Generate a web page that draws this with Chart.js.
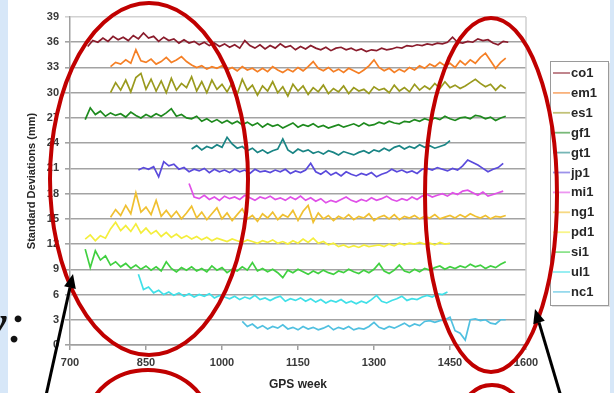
<!DOCTYPE html>
<html><head><meta charset="utf-8">
<script src="https://cdn.jsdelivr.net/npm/chart.js@4.4.1/dist/chart.umd.min.js"></script>
<style>html,body{margin:0;padding:0;background:#d7e7f8;overflow:hidden}canvas{display:block}</style>
</head><body>
<canvas id="c" width="614" height="393"></canvas>
<script>
const seriesNames = ['co1','em1','es1','gf1','gt1','jp1','mi1','ng1','pd1','si1','ul1','nc1'];
const seriesColors = ['#8a1c2c','#f57f25','#9a9a1e','#1e8a1e','#1a8585','#5a4adc','#e050e8','#f0c030','#f4ee3c','#40d040','#40e0e8','#50c0e0'];
const startWeeks = [735,780,780,730,940,835,935,780,730,730,835,1040];
const weekStep = 10;
const xTickLabels = [700,850,1000,1150,1300,1450,1600];
const yTickLabels = [0,3,6,9,12,15,18,21,24,27,30,33,36,39];

const co1 = [35.5,36.2,36.0,36.5,36.1,36.7,36.3,36.6,36.2,36.8,
 36.4,37.1,36.5,36.7,36.1,36.6,36.2,36.4,35.9,36.3,
 35.9,36.1,35.7,36.0,35.6,35.9,35.5,35.8,35.4,35.7,
 35.3,36.2,35.6,35.3,35.7,35.2,35.6,35.3,35.8,35.4,
 35.6,35.1,35.5,35.2,35.6,35.3,35.1,35.4,35.0,35.3,
 35.4,35.1,35.3,35.0,35.2,34.9,35.1,35.0,35.3,35.1,
 35.2,35.4,35.3,35.6,35.5,35.7,35.6,35.8,35.7,35.9,
 35.8,36.0,36.6,36.0,35.9,36.1,36.0,36.4,36.2,36.3,
 35.9,35.7,36.1,36.0];
const em1 = [33.1,33.6,33.4,33.9,33.5,35.1,33.8,33.6,34.0,33.4,
 33.7,34.2,33.6,33.9,34.3,33.7,33.3,33.0,33.2,32.8,
 33.1,32.9,33.2,32.7,33.0,32.6,33.1,32.7,32.9,32.5,
 32.9,32.5,33.1,32.7,32.4,32.8,32.5,33.0,32.6,33.1,
 33.7,32.9,32.6,33.0,32.5,32.8,32.4,32.9,32.6,32.3,
 32.7,33.2,33.9,33.0,32.6,32.9,32.4,32.8,32.5,33.0,
 32.7,33.2,32.9,33.4,33.1,33.6,33.2,33.5,33.0,33.8,
 33.3,33.9,33.5,34.2,34.7,33.8,32.9,33.6,34.1];
const es1 = [30.0,31.2,30.3,31.5,30.1,31.8,32.3,30.4,31.6,30.2,
 31.4,30.0,31.7,30.3,31.1,30.6,31.9,30.2,31.3,30.0,
 31.5,30.4,31.0,30.1,31.2,29.8,31.6,30.3,30.9,29.7,
 30.8,30.2,31.3,30.0,30.7,29.6,31.0,30.2,30.8,29.8,
 30.6,30.1,30.9,29.9,30.5,30.1,30.8,29.9,30.6,30.2,
 30.4,29.9,30.7,30.3,30.5,30.0,30.9,30.2,30.6,30.1,
 31.0,30.3,30.8,30.4,31.1,30.5,31.3,30.6,30.9,30.5,
 30.8,31.2,31.6,31.1,30.7,31.0,30.3,30.9,30.5];
const gf1 = [26.8,28.2,27.4,27.8,27.2,27.6,27.3,27.5,27.1,27.7,
 27.3,27.0,27.4,27.1,27.5,27.2,27.6,28.1,27.2,27.4,
 27.0,26.9,27.2,26.6,26.9,26.5,26.8,26.4,26.7,26.3,
 26.6,26.2,26.5,26.1,26.4,25.9,26.3,26.0,26.2,25.8,
 26.1,26.4,25.9,26.2,26.0,26.3,25.9,26.1,25.8,26.0,
 26.2,25.9,26.1,26.3,26.0,26.4,26.1,26.2,26.5,26.3,
 26.6,26.4,26.3,26.6,26.5,26.8,26.6,26.9,26.7,27.0,
 26.8,27.2,26.9,26.7,27.0,27.1,26.9,27.3,27.2,26.9,
 27.1,26.7,27.0,27.2];
const gt1 = [23.3,23.7,23.2,23.6,23.4,23.8,23.5,24.7,23.9,23.4,
 23.6,23.1,23.4,22.9,23.2,22.8,23.1,23.3,24.5,23.2,
 22.8,23.3,23.0,23.2,22.8,23.0,22.7,23.1,22.9,22.6,
 23.0,22.8,22.6,22.9,23.1,22.8,23.2,23.0,23.4,23.1,
 23.5,23.7,23.3,23.6,23.4,23.8,23.5,23.7,23.4,23.6,
 23.8,24.3];
const jp1 = [20.8,21.1,20.9,21.2,20.0,21.8,21.3,21.5,20.9,21.1,
 20.6,20.9,20.7,21.0,20.5,20.9,20.6,20.8,20.5,20.9,
 20.6,20.8,20.4,20.9,20.6,20.7,20.5,20.8,20.6,20.9,
 20.4,20.7,20.5,20.8,21.6,20.6,20.3,20.7,20.2,20.5,
 20.1,20.6,20.3,20.1,20.4,20.2,20.5,20.0,20.3,20.5,
 20.9,20.6,20.8,20.5,20.7,20.4,20.9,21.0,20.8,21.1,
 20.9,20.7,21.0,20.8,21.3,22.0,21.7,21.4,21.0,20.6,
 20.9,21.1,21.6];
const mi1 = [19.2,17.6,17.4,17.8,17.3,17.6,17.2,17.7,17.4,17.6,
 17.3,17.8,17.5,17.2,17.6,17.4,17.7,17.3,17.5,17.2,
 17.6,17.3,17.7,17.2,17.5,17.1,17.4,16.9,17.2,17.0,
 17.3,17.6,17.2,17.0,17.3,17.1,17.5,17.2,17.4,17.7,
 17.3,17.1,17.4,17.2,17.6,17.3,17.7,17.9,17.6,17.8,
 18.0,17.7,18.1,17.9,18.3,18.4,18.1,17.8,18.2,17.7,
 17.9,18.1,18.3];
const ng1 = [15.2,16.1,15.4,16.6,15.6,18.1,15.8,16.4,15.5,17.2,
 15.3,16.0,15.2,15.9,15.0,15.7,16.5,15.1,15.8,14.9,
 15.6,16.3,15.0,15.7,14.8,15.5,16.2,15.0,15.4,14.7,
 15.6,15.1,15.8,14.9,15.5,15.2,16.0,14.8,15.9,16.6,
 14.6,15.7,15.0,15.4,14.8,15.3,15.0,15.5,14.9,15.3,
 15.1,15.6,14.8,15.2,15.4,15.0,15.5,14.9,15.3,15.1,
 15.4,15.0,15.3,15.1,15.5,15.0,15.2,15.4,15.1,15.5,
 15.2,15.6,15.3,15.1,15.4,15.0,15.3,15.2,15.4];
const pd1 = [12.6,13.1,12.4,13.0,12.7,13.8,14.6,13.6,14.2,13.5,
 14.4,13.3,13.9,13.2,13.6,12.9,13.4,12.8,13.2,12.7,
 13.0,12.6,12.9,12.5,12.8,12.4,12.7,12.5,12.3,12.6,
 12.4,12.2,12.5,12.3,12.1,12.4,12.2,12.5,12.1,12.3,
 12.0,12.4,12.1,12.6,12.2,12.7,12.1,12.3,11.9,12.1,
 11.7,11.9,11.6,11.8,11.6,11.9,11.7,11.8,11.9,11.7,
 12.0,11.8,12.1,11.9,12.1,12.0,12.2,12.0,12.1,11.9,
 12.2,12.0,12.1];
const si1 = [11.4,9.2,11.2,10.1,10.6,9.5,9.9,9.3,9.7,9.1,
 9.5,9.0,9.4,8.9,9.3,8.8,9.9,9.1,8.7,9.2,
 8.9,9.3,8.8,9.1,8.7,9.4,8.9,9.2,8.6,9.0,
 8.8,9.3,8.9,9.8,8.8,9.1,8.7,9.0,8.6,8.0,
 8.9,8.6,9.0,8.7,8.4,8.8,8.5,8.9,8.6,8.4,
 8.8,8.6,9.0,8.7,8.5,8.9,8.6,9.0,9.7,8.8,
 8.5,8.9,9.5,8.8,8.6,9.0,8.7,9.1,8.9,9.2,
 9.4,9.0,9.3,9.1,9.4,9.2,9.6,9.3,9.5,9.1,
 9.4,9.2,9.6,9.9];
const ul1 = [8.4,6.6,6.9,6.2,6.5,6.0,6.3,5.9,6.2,5.8,
 6.1,5.7,6.0,5.8,6.1,5.6,5.9,5.7,5.5,5.8,
 5.4,5.7,5.5,5.9,5.4,5.6,5.3,5.6,5.8,5.2,
 5.5,5.3,5.6,5.2,5.5,5.1,5.4,5.0,5.3,5.1,
 5.4,5.0,5.2,4.9,5.2,5.0,5.4,5.9,5.2,5.0,
 5.3,5.5,5.8,5.3,5.5,5.4,5.7,5.9,5.7,6.1,
 6.0,6.3];
const nc1 = [2.8,2.2,2.5,2.0,2.3,1.9,2.2,2.0,2.4,1.9,
 2.1,1.8,2.2,1.9,2.1,1.8,2.0,2.3,1.8,2.1,
 1.9,2.2,1.8,2.0,1.9,2.2,2.7,2.1,1.9,2.2,
 2.0,2.3,2.6,2.2,2.5,2.3,2.8,2.9,2.7,2.9,
 3.0,3.3,1.7,1.4,0.6,3.0,3.1,2.9,3.0,2.6,
 2.5,3.0,3.0];
const seriesValues = [co1,em1,es1,gf1,gt1,jp1,mi1,ng1,pd1,si1,ul1,nc1];

// ---- build datasets ----
const datasets = seriesNames.map((name, i) => ({
  label: name,
  data: seriesValues[i].map((v, k) => ({x: startWeeks[i] + k * weekStep, y: v})),
  borderColor: seriesColors[i],
  backgroundColor: seriesColors[i],
  borderWidth: 1.7,
  pointRadius: 0,
  tension: 0,
  fill: false
}));

const SANS = "'Liberation Sans', Arial, sans-serif";

const bgPlugin = {
  id: 'bg',
  beforeDraw(chart) {
    const ctx = chart.ctx;
    ctx.save();
    ctx.fillStyle = '#d7e7f8';
    ctx.fillRect(0, 0, chart.width, chart.height);
    ctx.fillStyle = '#ffffff';
    ctx.fillRect(8, 0, 602, chart.height);
    ctx.restore();
  },
  beforeDatasetsDraw(chart) {
    const {ctx, chartArea: a} = chart;
    ctx.save();
    ctx.strokeStyle = '#cfcfcf';
    ctx.lineWidth = 1.5;
    ctx.beginPath();
    ctx.moveTo(a.right, a.top);
    ctx.lineTo(a.right, a.bottom);
    ctx.stroke();
    ctx.restore();
  }
};

const legendPlugin = {
  id: 'boxLegend',
  afterDraw(chart) {
    const ctx = chart.ctx;
    ctx.save();
    const bx = 550, by = 61, bw = 58, bh = 244;
    ctx.fillStyle = 'rgba(0,0,0,0.12)';
    ctx.fillRect(bx + 2, by + 2, bw, bh);
    ctx.fillStyle = '#ffffff';
    ctx.fillRect(bx, by, bw, bh);
    ctx.strokeStyle = '#9a9a9a';
    ctx.lineWidth = 1;
    ctx.strokeRect(bx + 0.5, by + 0.5, bw, bh);
    ctx.font = 'bold 13px ' + SANS;
    ctx.textBaseline = 'middle';
    ctx.textAlign = 'left';
    chart.data.datasets.forEach((ds, i) => {
      const y = 73 + i * 19.9;
      ctx.globalAlpha = 0.6;
      ctx.strokeStyle = ds.borderColor;
      ctx.lineWidth = 1.8;
      ctx.beginPath();
      ctx.moveTo(553, y);
      ctx.lineTo(570, y);
      ctx.stroke();
      ctx.globalAlpha = 1;
      ctx.fillStyle = '#262626';
      ctx.fillText(ds.label, 571, y + 0.5);
    });
    ctx.restore();
  }
};

function arrow(ctx, x0, y0, x1, y1) {
  const ang = Math.atan2(y1 - y0, x1 - x0);
  const hl = 14, hw = 6;
  const bx = x1 - hl * Math.cos(ang), by = y1 - hl * Math.sin(ang);
  ctx.beginPath();
  ctx.moveTo(x0, y0);
  ctx.lineTo(bx, by);
  ctx.stroke();
  ctx.beginPath();
  ctx.moveTo(x1, y1);
  ctx.lineTo(bx + hw * Math.sin(ang), by - hw * Math.cos(ang));
  ctx.lineTo(bx - hw * Math.sin(ang), by + hw * Math.cos(ang));
  ctx.closePath();
  ctx.fill();
}

const overlayPlugin = {
  id: 'overlay',
  afterDraw(chart) {
    const ctx = chart.ctx;
    ctx.save();
    ctx.strokeStyle = '#c00000';
    ctx.lineWidth = 4;
    [[149,179,99,176],[491,195,66,177],[148,420,60,50],[492,415,30,30]].forEach(e => {
      ctx.beginPath();
      ctx.ellipse(e[0], e[1], e[2], e[3], 0, 0, Math.PI * 2);
      ctx.stroke();
    });
    ctx.strokeStyle = '#000000';
    ctx.fillStyle = '#000000';
    ctx.lineWidth = 3;
    arrow(ctx, 45, 400, 73, 274);
    arrow(ctx, 562, 400, 535, 309);
    ctx.font = "italic 58px 'Liberation Serif', 'Times New Roman', serif";
    ctx.textAlign = 'left';
    ctx.textBaseline = 'alphabetic';
    ctx.fillStyle = '#111111';
    ctx.fillText('v:', -19, 342);
    ctx.restore();
  }
};

new Chart(document.getElementById('c'), {
  type: 'line',
  data: {datasets},
  options: {
    responsive: false,
    animation: false,
    devicePixelRatio: 1,
    layout: {padding: {left: 0, top: 17, right: 88, bottom: 0}},
    plugins: {legend: {display: false}, tooltip: {enabled: false}},
    scales: {
      x: {
        type: 'linear',
        min: xTickLabels[0],
        max: xTickLabels[xTickLabels.length - 1],
        afterBuildTicks(scale) { scale.ticks = xTickLabels.map(v => ({value: v})); },
        afterFit(scale) { scale.height = 48; },
        ticks: {color: '#3a3a3a', font: {family: SANS, size: 11, weight: 'bold'}, padding: 6, maxRotation: 0,
                callback: v => String(v)},
        grid: {drawOnChartArea: false, drawTicks: true, tickLength: 5, color: '#a0a0a0', lineWidth: 1.5},
        border: {display: true, color: '#a0a0a0', width: 1.5},
        title: {display: true, text: 'GPS week', color: '#262626', font: {family: SANS, size: 12, weight: 'bold'}, padding: {top: 0, bottom: 1}}
      },
      y: {
        min: yTickLabels[0],
        max: yTickLabels[yTickLabels.length - 1],
        afterBuildTicks(scale) { scale.ticks = yTickLabels.map(v => ({value: v})); },
        afterFit(scale) { scale.width = 70; },
        ticks: {color: '#3a3a3a', font: {family: SANS, size: 11, weight: 'bold'}, padding: 6, callback: v => String(v)},
        grid: {
          color: c => (c.tick && c.tick.value === 39) ? '#d2d2d2' : '#a3a3a3',
          lineWidth: 1.6, tickLength: 5, drawTicks: true
        },
        border: {display: true, color: '#a0a0a0', width: 1.5},
        title: {display: true, text: 'Standard Deviations (mm)', color: '#262626', font: {family: SANS, size: 11, weight: 'bold'}, padding: {top: 25, bottom: 0}}
      }
    }
  },
  plugins: [bgPlugin, legendPlugin, overlayPlugin]
});
</script>
</body></html>
